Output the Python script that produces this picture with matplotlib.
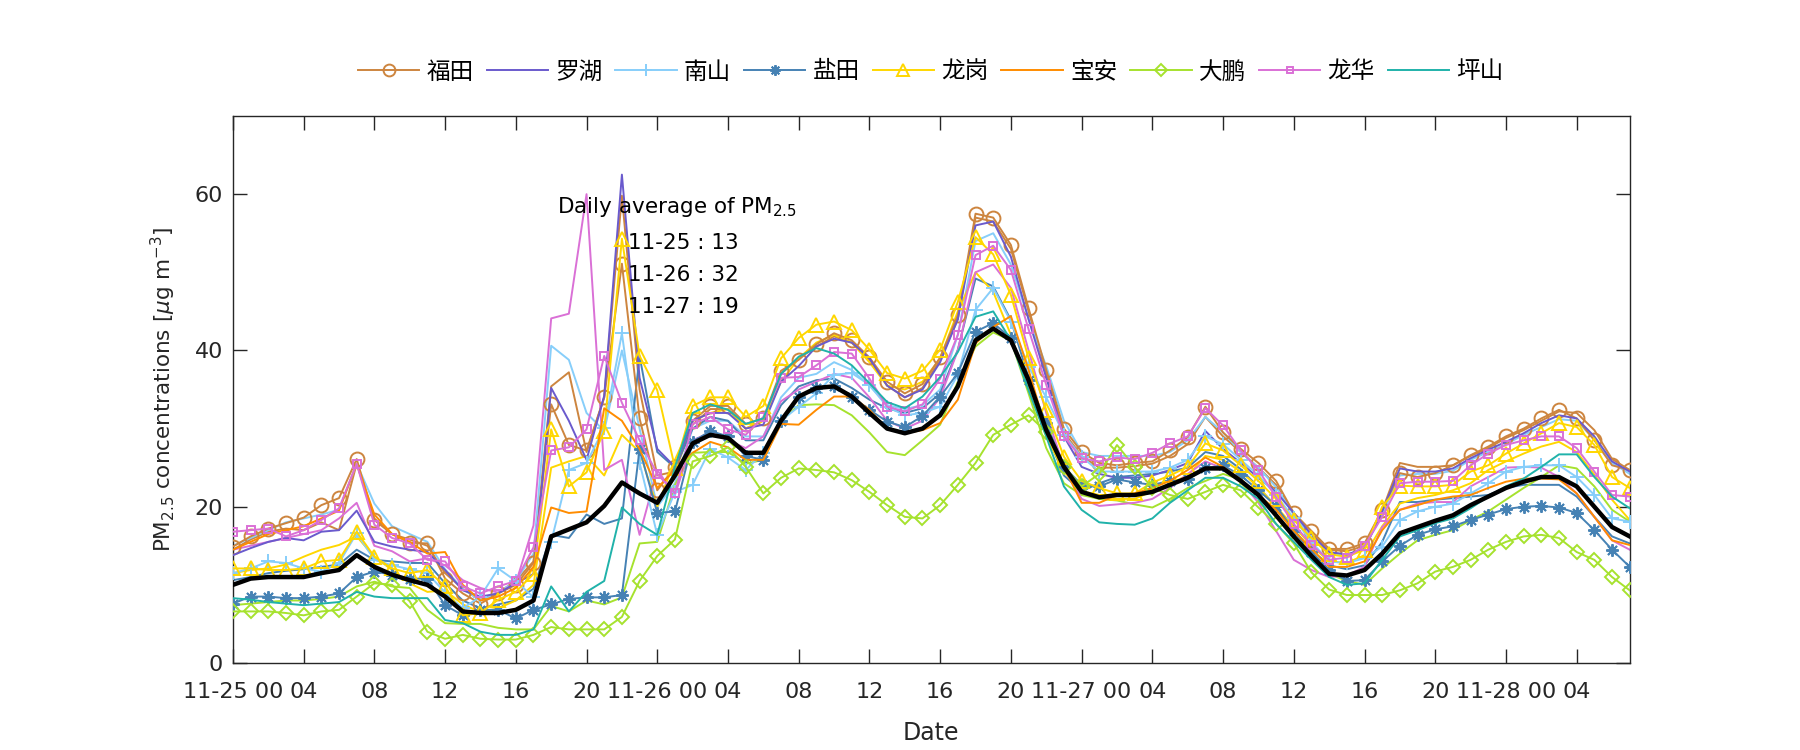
import matplotlib
matplotlib.use("Agg")
import matplotlib.pyplot as plt
import numpy as np
from matplotlib.font_manager import FontProperties

hours = list(range(80))
start_day = 25

futian = [14.9, 16.2, 17.2, 17.9, 18.6, 20.2, 21.1, 26.1, 18.3, 16.5, 15.4, 15.3, 10.8, 8.9, 7.6, 8.9, 10.0,
          12.8, 33.1, 27.9, 27.2, 34.0, 51.1, 31.3, 22.1, 25.1, 31.0, 32.9, 32.9, 30.6, 31.3, 37.4, 38.8,
          40.8, 42.2, 41.3, 39.1, 36.0, 34.5, 35.7, 39.1, 44.5, 57.5, 57.0, 53.5, 45.4, 37.5, 30.0, 27.0,
          25.6, 25.3, 25.6, 25.8, 27.2, 28.9, 32.8, 29.5, 27.4, 25.6, 23.3, 19.2, 16.9, 14.6, 14.6, 15.3,
          19.6, 24.3, 23.8, 24.3, 25.3, 26.6, 27.7, 29.0, 30.0, 31.3, 32.4, 31.3, 28.5, 25.3, 24.7]
luohu = [13.8, 14.7, 15.5, 16.0, 15.7, 16.8, 17.0, 19.5, 15.5, 14.9, 14.5, 14.2, 11.9, 9.3, 8.5, 8.9, 10.2,
         11.4, 35.2, 31.0, 26.0, 34.2, 62.5, 36.5, 27.4, 25.1, 31.0, 32.0, 32.0, 30.0, 30.5, 36.0, 38.0,
         40.5, 41.5, 41.0, 39.0, 35.5, 34.0, 35.0, 38.5, 44.0, 56.0, 56.5, 52.0, 44.0, 36.5, 29.0, 25.1,
         24.2, 23.7, 23.7, 24.0, 24.7, 25.6, 29.7, 27.4, 25.6, 23.7, 21.9, 19.2, 16.4, 14.2, 13.9, 14.6,
         19.4, 24.9, 24.5, 24.5, 24.9, 26.2, 27.3, 28.3, 29.4, 30.7, 31.7, 31.3, 29.0, 25.8, 24.5]
nanshan = [11.5, 12.1, 13.0, 12.8, 12.1, 11.7, 12.8, 16.6, 13.2, 12.5, 12.0, 11.5, 9.0, 7.0, 8.5, 12.1, 10.5,
           8.4, 15.5, 24.7, 25.6, 30.1, 42.2, 25.6, 16.4, 21.9, 22.8, 27.4, 26.3, 24.7, 26.9, 31.0, 32.8,
           34.5, 36.9, 37.1, 35.6, 32.8, 31.7, 32.0, 32.8, 36.9, 45.2, 48.0, 43.7, 37.9, 34.0, 29.2, 26.4,
           24.5, 24.5, 24.5, 24.5, 25.0, 26.0, 29.0, 28.0, 26.0, 24.0, 21.5, 18.5, 15.5, 13.0, 12.8, 13.4,
           14.9, 18.3, 19.4, 20.0, 20.4, 21.7, 23.0, 24.5, 25.1, 25.3, 25.3, 23.8, 21.5, 18.5, 18.1]
yantian = [7.6, 8.5, 8.5, 8.3, 8.3, 8.5, 8.9, 11.0, 11.7, 11.3, 10.8, 10.8, 7.4, 6.1, 6.8, 6.8, 5.7,
           6.8, 7.5, 8.2, 8.4, 8.4, 8.7, 27.4, 19.2, 19.4, 28.3, 29.7, 29.0, 26.5, 26.0, 31.0, 34.1,
           35.2, 35.4, 34.1, 32.4, 30.9, 30.2, 31.6, 34.1, 37.1, 42.4, 43.5, 41.6, 36.2, 30.7, 25.1, 22.8,
           22.6, 23.5, 23.1, 22.8, 23.3, 23.5, 24.9, 25.3, 24.0, 22.1, 20.1, 16.9, 14.2, 11.9, 10.5, 10.6,
           13.0, 15.0, 16.4, 17.1, 17.5, 18.3, 19.0, 19.7, 20.0, 20.1, 19.9, 19.2, 17.0, 14.5, 12.3]
longgang = [12.1, 12.1, 11.9, 11.9, 12.1, 13.0, 13.2, 16.8, 13.6, 12.1, 11.5, 11.9, 9.8, 6.1, 6.4, 8.1, 9.1,
            11.4, 29.9, 22.6, 24.4, 29.7, 54.3, 39.3, 34.9, 25.0, 32.9, 34.0, 34.0, 31.5, 32.9, 39.0, 41.6,
            43.3, 43.7, 42.6, 40.1, 37.1, 36.4, 37.4, 40.1, 46.2, 54.5, 52.3, 47.1, 39.0, 32.4, 26.4, 23.3,
            22.4, 21.7, 21.7, 23.1, 24.0, 25.1, 28.1, 27.2, 25.3, 23.3, 21.0, 18.3, 16.0, 13.9, 13.6, 14.5,
            20.0, 22.7, 22.6, 22.6, 22.8, 24.5, 25.3, 26.8, 28.1, 29.4, 30.7, 30.2, 27.9, 23.8, 22.4]
baoan = [14.5, 15.5, 16.5, 17.0, 17.5, 18.5, 19.5, 25.5, 19.0, 16.5, 15.5, 14.0, 14.2, 10.0, 8.0, 8.5, 9.6,
         12.3, 19.9, 19.2, 19.4, 32.6, 31.0, 27.4, 22.4, 24.7, 26.9, 28.3, 27.6, 26.0, 26.0, 30.6, 30.5,
         32.4, 34.1, 34.1, 32.4, 30.0, 29.4, 29.8, 30.7, 33.7, 40.9, 43.0, 44.4, 37.5, 29.8, 25.1, 20.5,
         20.5, 21.5, 21.7, 22.4, 23.3, 24.7, 26.3, 25.1, 23.5, 21.5, 19.6, 16.9, 14.6, 12.3, 12.3, 13.0,
         17.0, 19.6, 20.2, 20.9, 21.3, 21.5, 22.4, 23.2, 23.6, 23.6, 23.5, 21.7, 18.7, 15.7, 15.1]
dapeng = [6.6, 6.6, 6.6, 6.4, 6.1, 6.6, 6.8, 8.5, 10.2, 10.0, 7.9, 4.0, 3.1, 3.6, 3.1, 3.0, 3.0,
          3.6, 4.6, 4.3, 4.3, 4.3, 5.9, 10.5, 13.7, 15.8, 25.8, 26.5, 27.6, 25.1, 21.7, 23.7, 24.9,
          24.7, 24.4, 23.4, 21.9, 20.2, 18.7, 18.5, 20.2, 22.8, 25.6, 29.2, 30.5, 31.7, 29.6, 25.1, 22.6,
          24.2, 27.9, 25.1, 22.4, 21.5, 21.0, 21.9, 22.8, 22.1, 19.9, 17.8, 15.3, 11.6, 9.4, 8.7, 8.7,
          8.7, 9.3, 10.2, 11.7, 12.3, 13.2, 14.5, 15.5, 16.2, 16.4, 16.0, 14.2, 13.2, 11.0, 9.3]
longhua = [16.8, 17.0, 17.2, 16.2, 17.0, 18.3, 19.8, 25.5, 17.7, 16.0, 15.3, 13.2, 13.0, 9.8, 8.9, 9.8, 10.5,
           14.8, 27.2, 27.6, 29.9, 39.3, 33.3, 28.5, 24.2, 21.7, 30.6, 31.5, 29.9, 29.2, 31.5, 36.5, 36.6,
           38.1, 39.8, 39.6, 36.4, 32.8, 32.2, 33.1, 36.4, 42.0, 52.2, 53.4, 50.3, 42.7, 35.6, 29.0, 26.2,
           25.8, 26.3, 26.1, 26.9, 28.1, 29.0, 32.6, 30.4, 27.2, 24.7, 21.2, 17.8, 15.1, 13.2, 13.5, 15.0,
           18.7, 23.0, 23.2, 23.2, 23.3, 25.3, 26.8, 27.9, 28.5, 29.0, 29.0, 27.5, 24.5, 21.5, 21.3]
pingshan = [8.3, 8.1, 7.8, 7.6, 7.4, 7.6, 7.8, 9.1, 8.5, 8.3, 8.3, 8.3, 5.5, 5.1, 4.0, 3.6, 3.6,
            4.3, 9.8, 6.6, 9.1, 10.5, 19.9, 17.8, 16.4, 25.1, 32.0, 33.1, 32.4, 30.6, 31.3, 37.0, 39.2,
            40.3, 39.6, 38.1, 35.8, 33.4, 32.6, 34.1, 36.6, 39.8, 44.3, 45.0, 41.3, 34.9, 29.0, 22.6, 19.6,
            18.0, 17.8, 17.7, 18.5, 20.5, 22.1, 23.7, 23.7, 22.6, 21.0, 17.8, 15.5, 13.2, 11.0, 10.0, 10.2,
            13.2, 16.2, 17.0, 17.9, 18.5, 19.8, 21.3, 22.6, 23.6, 25.1, 26.7, 26.7, 23.8, 21.3, 19.8]

# second monitoring stations (no legend entry)
futian_b = [14.5, 15.8, 16.8, 17.2, 17.0, 18.0, 17.0, 25.5, 18.5, 16.5, 15.8, 15.0, 11.5, 9.5, 8.0, 9.0, 10.5,
            13.0, 35.4, 37.2, 27.0, 34.0, 59.8, 35.0, 24.0, 24.5, 30.5, 32.5, 32.5, 30.0, 31.0, 37.0, 39.0,
            40.5, 41.8, 41.0, 38.8, 35.5, 34.0, 35.2, 38.8, 44.0, 57.0, 56.5, 53.0, 45.0, 37.0, 29.5, 26.5,
            25.0, 25.0, 25.2, 25.5, 26.5, 28.0, 31.5, 29.0, 27.0, 25.0, 22.8, 19.0, 16.5, 14.5, 14.3, 15.0,
            19.5, 25.6, 25.1, 25.1, 25.3, 26.5, 27.5, 28.8, 29.8, 31.0, 32.2, 32.0, 29.8, 26.1, 24.7]
nanshan_b = [15.0, 16.0, 17.0, 18.0, 18.5, 19.0, 19.6, 25.5, 20.4, 17.5, 16.5, 15.5, 12.0, 9.5, 8.0, 9.0, 10.5,
             14.0, 40.6, 38.8, 32.0, 29.7, 40.0, 30.0, 20.0, 23.0, 30.0, 31.0, 31.0, 29.0, 29.0, 34.0, 36.5,
             37.0, 38.5, 37.5, 35.5, 33.0, 32.5, 33.0, 35.0, 42.0, 54.0, 55.0, 51.0, 44.0, 38.0, 31.0, 27.0,
             26.5, 26.5, 26.5, 26.5, 27.0, 28.5, 31.5, 29.5, 27.0, 25.0, 22.5, 19.0, 16.0, 14.0, 13.8, 14.8,
             19.0, 24.0, 24.2, 24.2, 24.6, 26.0, 27.0, 28.0, 29.2, 30.2, 31.2, 31.0, 28.6, 25.6, 24.2]
yantian_b = [10.6, 11.0, 11.5, 11.8, 12.0, 12.3, 12.6, 14.5, 13.2, 13.0, 12.8, 12.8, 10.2, 8.0, 7.0, 7.5, 8.0,
             9.5, 16.4, 16.0, 19.0, 17.8, 18.5, 39.3, 27.0, 25.0, 30.0, 31.5, 31.0, 28.5, 28.5, 33.0, 35.4,
             36.2, 36.4, 35.2, 33.7, 32.6, 32.0, 32.6, 34.5, 40.1, 49.2, 48.2, 43.9, 36.5, 29.5, 24.0, 22.0,
             23.0, 23.8, 24.0, 24.2, 24.5, 25.0, 27.0, 26.5, 24.8, 22.5, 20.0, 17.0, 14.5, 12.5, 12.0, 12.5,
             15.5, 20.6, 20.6, 20.9, 21.1, 21.3, 21.5, 22.4, 22.8, 22.8, 22.8, 21.3, 18.7, 16.2, 15.3]
longgang_b = [11.5, 11.9, 12.1, 12.6, 13.6, 14.5, 15.1, 16.2, 13.6, 11.9, 10.2, 9.1, 9.3, 7.5, 6.5, 7.0, 8.0,
              10.0, 25.0, 25.8, 26.5, 24.0, 29.2, 27.0, 20.0, 26.0, 31.0, 32.0, 32.5, 30.0, 31.0, 36.0, 39.0,
              41.0, 42.0, 41.0, 38.5, 35.5, 35.0, 36.0, 39.0, 45.0, 50.0, 47.5, 42.0, 35.0, 29.0, 24.5, 22.0,
              21.5, 21.0, 21.0, 22.0, 23.0, 24.0, 26.5, 26.0, 24.5, 22.5, 20.0, 17.5, 15.0, 13.0, 12.8, 13.8,
              17.5, 20.4, 21.1, 21.5, 22.1, 23.0, 24.7, 25.8, 26.8, 27.7, 28.3, 27.0, 24.1, 20.9, 18.3]
dapeng_b = [7.4, 7.6, 7.8, 8.0, 8.0, 8.2, 8.5, 9.8, 10.4, 9.8, 9.6, 6.8, 5.1, 5.0, 5.0, 4.5, 4.3,
            4.3, 7.3, 6.6, 8.0, 7.5, 8.4, 15.3, 15.5, 22.8, 26.9, 27.0, 27.0, 25.5, 26.0, 31.0, 33.0,
            33.1, 33.0, 31.7, 29.5, 27.0, 26.6, 28.5, 30.5, 36.0, 40.5, 42.3, 41.3, 34.5, 27.5, 23.0, 21.5,
            21.0, 20.8, 20.3, 19.9, 21.0, 22.4, 23.3, 24.2, 23.5, 21.5, 18.7, 16.0, 13.7, 11.4, 10.5, 10.0,
            12.1, 14.0, 15.7, 16.4, 17.0, 18.3, 19.4, 20.9, 22.4, 23.8, 25.3, 24.9, 22.6, 19.6, 18.1]
longhua_b = [14.5, 15.0, 15.5, 16.0, 16.5, 17.0, 18.5, 20.5, 15.0, 14.3, 13.0, 13.4, 12.5, 10.6, 9.6, 9.0, 10.2,
             17.6, 44.1, 44.7, 60.0, 24.7, 26.0, 16.4, 24.7, 21.5, 28.5, 29.5, 28.5, 27.5, 29.0, 33.5, 35.0,
             36.0, 37.0, 36.5, 34.0, 31.0, 30.0, 31.0, 34.0, 40.0, 50.0, 51.0, 48.0, 40.0, 32.0, 25.0, 21.0,
             20.1, 20.3, 20.5, 21.0, 22.4, 24.2, 25.8, 24.9, 23.3, 20.5, 16.9, 13.2, 11.9, 11.0, 11.2, 12.3,
             17.4, 19.6, 20.4, 20.6, 20.6, 22.6, 23.8, 25.0, 25.1, 25.0, 23.8, 21.7, 18.7, 15.7, 14.5]

average = [10.0, 10.8, 11.0, 11.0, 11.0, 11.5, 11.9, 13.8, 12.3, 11.3, 10.6, 10.0, 8.5, 6.6, 6.4, 6.4, 6.8,
           8.0, 16.2, 17.1, 18.0, 20.1, 23.1, 21.7, 20.5, 24.0, 28.1, 29.2, 28.8, 26.9, 26.9, 31.0, 34.1,
           35.2, 35.4, 34.1, 32.0, 30.0, 29.4, 30.0, 31.7, 35.4, 41.3, 42.8, 41.3, 36.2, 29.8, 25.1, 21.9,
           21.2, 21.5, 21.5, 21.9, 22.8, 23.7, 24.9, 24.9, 23.3, 21.5, 18.9, 16.2, 13.7, 11.4, 11.2, 11.9,
           14.0, 16.6, 17.4, 18.2, 18.9, 20.2, 21.3, 22.4, 23.2, 23.8, 23.8, 22.6, 20.0, 17.4, 16.2]

district_names = ['福田', '罗湖', '南山', '盐田', '龙岗', '宝安', '大鹏', '龙华', '坪山']
daily_labels = ['11-25 : 13', '11-26 : 32', '11-27 : 19']

colors = {'福田': '#CD853F', '罗湖': '#6A5ACD', '南山': '#87CEFA', '盐田': '#4682B4',
          '龙岗': '#FFD700', '宝安': '#FF8C00', '大鹏': '#A6E22E', '龙华': '#DA70D6',
          '坪山': '#20B2AA'}
markers = {'福田': ('o', 10), '罗湖': (None, 0), '南山': ('+', 10), '盐田': ((8, 2, 0), 9),
           '龙岗': ('^', 10), '宝安': (None, 0), '大鹏': ('D', 7.5), '龙华': ('s', 5.5),
           '坪山': (None, 0)}
main_series = [futian, luohu, nanshan, yantian, longgang, baoan, dapeng, longhua, pingshan]
second = [('福田', futian_b), ('南山', nanshan_b), ('盐田', yantian_b),
          ('龙岗', longgang_b), ('大鹏', dapeng_b), ('龙华', longhua_b)]

plt.rcParams['font.family'] = ['DejaVu Sans']
fig = plt.figure(figsize=(18, 7.5), dpi=100)
ax = fig.add_axes([0.1294, 0.116, 0.776, 0.7293])

x = np.array(hours)
for name, vals in second:
    ax.plot(x, vals, color=colors[name], lw=1.4, zorder=2)

handles = []
for name, vals in zip(district_names, main_series):
    m, ms = markers[name]
    if m is None:
        h, = ax.plot(x, vals, color=colors[name], lw=1.4, label=name, zorder=3)
    else:
        h, = ax.plot(x, vals, color=colors[name], lw=1.4, marker=m, ms=ms,
                     mfc='none', mec=colors[name], mew=1.4, label=name, zorder=3)
    handles.append(h)

ax.plot(x, average, color='black', lw=3.2, zorder=4)

ax.set_xlim(0, 79)
ax.set_ylim(0, 70)
xt = list(range(0, 80, 4))
xl = []
for t in xt:
    d, hh = divmod(t, 24)
    xl.append(f'11-{start_day + d} {hh:02d}' if hh == 0 else f'{hh:02d}')
ax.set_xticks(xt)
ax.set_xticklabels(xl)
ax.set_yticks([0, 20, 40, 60])
ax.tick_params(direction='in', top=True, right=True, length=10, width=1.0,
               labelsize=16, colors='#262626')
ax.tick_params(axis='x', pad=14)
ax.tick_params(axis='y', pad=7)
for s in ax.spines.values():
    s.set_color('#262626')
    s.set_linewidth(1.0)

ax.set_xlabel('Date', fontsize=17, color='#262626', labelpad=13)
ax.set_ylabel(r'PM$_{2.5}$ concentrations [$\mu$g m$^{-3}$]', fontsize=15.5,
              color='#262626', labelpad=12)

tx = 25.1
ax.text(tx, 58.4, r'Daily average of PM$_{2.5}$', ha='center', va='center',
        fontsize=15.5, zorder=6)
for i, s in enumerate(daily_labels):
    ax.text(tx + 0.4, 53.8 - i * 4.1, s, ha='center', va='center', fontsize=15.5,
            zorder=6)

leg = fig.legend(handles=handles, loc='center', bbox_to_anchor=(0.517, 0.904), ncol=9,
                 frameon=False, numpoints=1, handlelength=2.6, handletextpad=0.3,
                 columnspacing=0.55, markerscale=0.85,
                 prop=FontProperties(family=['Noto Sans CJK SC', 'DejaVu Sans'], size=17))

fig.savefig('out.png', dpi=100)
